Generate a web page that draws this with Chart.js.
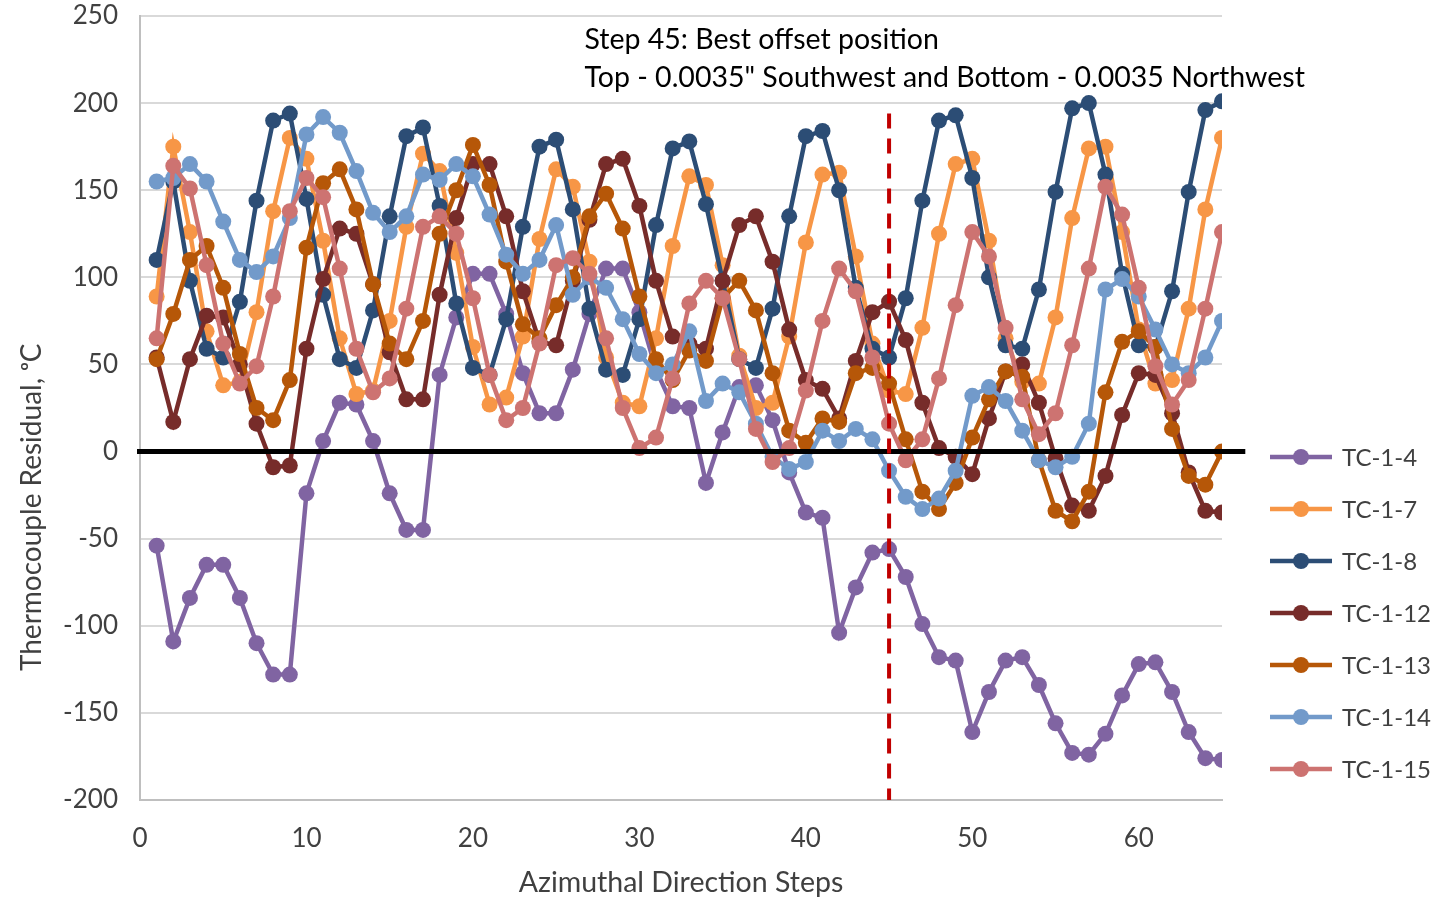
<!DOCTYPE html>
<html>
<head>
<meta charset="utf-8">
<title>Thermocouple Residual</title>
<script src="https://cdn.jsdelivr.net/npm/chart.js@4/dist/chart.umd.min.js"></script>
<style>
  html, body { margin: 0; padding: 0; background: #fff; }
  #wrap { width: 1455px; height: 901px; }
</style>
</head>
<body>
<div id="wrap"><canvas id="tcChart" width="1455" height="901"></canvas></div>
<script>
// azimuthal step numbers
const STEPS = [1,2,3,4,5,6,7,8,9,10,11,12,13,14,15,16,17,18,19,20,21,22,23,24,25,26,27,28,29,30,31,32,33,
  34,35,36,37,38,39,40,41,42,43,44,45,46,47,48,49,50,51,52,53,54,55,56,57,58,59,60,61,62,63,64,65];

// residuals per thermocouple, degC
const TC_1_4  = [-54,-109,-84,-65,-65,-84,-110,-128,-128,-24,6,28,27,6,-24,-45,-45,44,77,102,102,79,45,22,22,47,79,105,105,80,
  47,26,25,-18,11,37,38,18,-12,-35,-38,-104,-78,-58,-56,-72,-99,-118,-120,-161,-138,-120,-118,-134,-156,-173,-174,-162,-140,-122,
  -121,-138,-161,-176,-177];
const TC_1_7  = [89,175,126,69,38,40,80,138,180,168,121,65,33,35,75,129,171,161,114,60,27,31,66,122,162,152,109,54,28,26,
  65,118,158,153,107,55,25,28,66,120,159,160,112,62,35,33,71,125,165,168,121,65,40,39,77,134,174,175,126,70,
  39,41,82,139,180];
const TC_1_8  = [110,155,98,59,54,86,144,190,194,145,90,53,48,81,135,181,186,141,85,48,44,76,129,175,179,139,82,47,44,76,
  130,174,178,142,98,53,48,82,135,181,184,150,94,59,54,88,144,190,193,157,100,61,59,93,149,197,200,159,102,61,
  60,92,149,196,201];
const TC_1_12 = [54,17,53,78,77,50,16,-9,-8,59,99,128,125,96,57,30,30,90,134,165,165,135,92,63,61,98,133,165,168,141,
  98,66,62,59,98,130,135,109,70,41,36,19,52,80,86,64,28,2,-3,-13,19,46,50,28,-4,-31,-34,-14,21,45,
  44,22,-12,-34,-35];
const TC_1_13 = [53,79,110,118,94,56,25,18,41,117,154,162,139,96,62,53,75,125,150,176,153,109,73,65,84,100,135,148,128,89,
  53,41,58,52,88,98,81,45,12,5,19,17,45,48,39,7,-23,-33,-18,8,30,46,43,-5,-34,-40,-23,34,63,69,
  60,13,-14,-19,0];
const TC_1_14 = [155,157,165,155,132,110,103,112,134,182,192,183,161,137,126,135,159,156,165,158,136,113,102,110,130,90,100,94,76,56,
  45,50,69,29,39,34,16,-3,-10,-6,12,6,13,7,-11,-26,-33,-27,-11,32,37,29,12,-5,-9,-3,16,93,99,89,
  70,50,45,54,75];
const TC_1_15 = [65,164,151,107,62,39,49,89,138,157,146,105,59,34,42,82,129,135,125,88,44,18,25,62,107,111,102,65,25,2,
  8,42,85,98,88,53,13,-6,2,35,75,105,92,54,16,-5,7,42,84,126,112,71,30,10,22,61,105,152,136,94,
  49,27,41,82,126];

const SERIES_NAMES  = ['TC-1-4', 'TC-1-7', 'TC-1-8', 'TC-1-12', 'TC-1-13', 'TC-1-14', 'TC-1-15'];
const SERIES_VALUES = [TC_1_4, TC_1_7, TC_1_8, TC_1_12, TC_1_13, TC_1_14, TC_1_15];
const SERIES_COLORS = ['#8064A2', '#F79646', '#2C4D75', '#772C2A', '#B65708', '#729ACA', '#CD7371'];

const BEST_STEP = 45;
const NOTE_LINES = ['Step 45: Best offset position',
                    'Top - 0.0035" Southwest and Bottom - 0.0035 Northwest'];
const Y_TITLE = 'Thermocouple Residual, ᵒC';

const FONT = 'Lato, "Open Sans", sans-serif';
const TEXT = '#404040';
const GRID = '#D9D9D9';

// zero reference, best-step marker and note, drawn over the series
const overlayPlugin = {
  id: 'overlay',
  afterDatasetsDraw(chart) {
    const { ctx, scales: { x, y } } = chart;
    ctx.save();

    const y0 = y.getPixelForValue(0);
    ctx.strokeStyle = '#000';
    ctx.lineWidth = 5;
    ctx.beginPath();
    ctx.moveTo(x.left - 3, y0);
    ctx.lineTo(x.getPixelForValue(66.4), y0);
    ctx.stroke();

    const xb = x.getPixelForValue(BEST_STEP);
    ctx.strokeStyle = '#C00000';
    ctx.lineWidth = 4;
    ctx.setLineDash([15, 10]);
    ctx.beginPath();
    ctx.moveTo(xb, y.getPixelForValue(194));
    ctx.lineTo(xb, y.getPixelForValue(-200));
    ctx.stroke();
    ctx.setLineDash([]);

    ctx.fillStyle = '#000';
    ctx.font = '28.5px ' + FONT;
    ctx.textAlign = 'left';
    ctx.textBaseline = 'middle';
    const nx = x.getPixelForValue(26.7);
    ctx.fillText(NOTE_LINES[0], nx, y.getPixelForValue(236.5));
    ctx.fillText(NOTE_LINES[1], nx, y.getPixelForValue(214.5));
    ctx.restore();
  },
};

// rotated y title and legend column on the right
const sidePlugin = {
  id: 'sideText',
  afterDraw(chart) {
    const { ctx } = chart;
    const area = chart.chartArea;
    ctx.save();

    ctx.translate(32, chart.scales.y.getPixelForValue(-32));
    ctx.rotate(-Math.PI / 2);
    ctx.font = '28px ' + FONT;
    ctx.fillStyle = TEXT;
    ctx.textAlign = 'center';
    ctx.textBaseline = 'middle';
    ctx.fillText(Y_TITLE, 0, 0);
    ctx.setTransform(1, 0, 0, 1, 0, 0);

    ctx.font = '24px ' + FONT;
    ctx.textAlign = 'left';
    SERIES_NAMES.forEach((name, i) => {
      const cy = 457 + i * 52;
      const lx = area.right + 48;
      ctx.strokeStyle = SERIES_COLORS[i];
      ctx.lineWidth = 4.5;
      ctx.beginPath();
      ctx.moveTo(lx, cy);
      ctx.lineTo(lx + 62, cy);
      ctx.stroke();
      ctx.fillStyle = SERIES_COLORS[i];
      ctx.beginPath();
      ctx.arc(lx + 31, cy, 8, 0, Math.PI * 2);
      ctx.fill();
      ctx.fillStyle = TEXT;
      ctx.fillText(name, lx + 72, cy + 1);
    });
    ctx.restore();
  },
};

const datasets = SERIES_NAMES.map((name, i) => ({
  label: name,
  data: STEPS.map((s, k) => ({ x: s, y: SERIES_VALUES[i][k] })),
  borderColor: SERIES_COLORS[i],
  backgroundColor: SERIES_COLORS[i],
  pointBackgroundColor: SERIES_COLORS[i],
  pointBorderWidth: 0,
  pointRadius: 8,
  borderWidth: 4.5,
  tension: 0,
  order: SERIES_NAMES.length - i,
}));

new Chart(document.getElementById('tcChart'), {
  type: 'line',
  data: { datasets },
  plugins: [overlayPlugin, sidePlugin],
  options: {
    responsive: false,
    animation: false,
    layout: { autoPadding: false, padding: { left: 0, top: 16, right: 233, bottom: 0 } },
    plugins: { legend: { display: false }, tooltip: { enabled: false } },
    scales: {
      x: {
        type: 'linear',
        min: 0, max: 65,
        afterBuildTicks: s => { s.ticks = s.ticks.filter(t => t.value % 10 === 0); },
        afterFit: s => { s.height = 101; s.paddingLeft = 0; s.paddingRight = 0; },
        ticks: { stepSize: 10, color: TEXT, font: { family: FONT, size: 26 }, padding: 23, maxRotation: 0 },
        grid: { display: false, drawTicks: false },
        border: { display: true, color: '#BFBFBF', width: 2 },
        title: { display: true, text: 'Azimuthal Direction Steps', color: TEXT,
                 font: { family: FONT, size: 28.5 }, padding: { top: 0, bottom: 1 } },
      },
      y: {
        min: -200, max: 250,
        afterFit: s => { s.width = 140; s.paddingTop = 0; s.paddingBottom = 0; },
        ticks: { stepSize: 50, color: TEXT, font: { family: FONT, size: 26 }, padding: 22 },
        grid: { color: GRID, lineWidth: 2, drawTicks: false },
        border: { display: true, color: '#BFBFBF', width: 2 },
      },
    },
  },
});
</script>
</body>
</html>
